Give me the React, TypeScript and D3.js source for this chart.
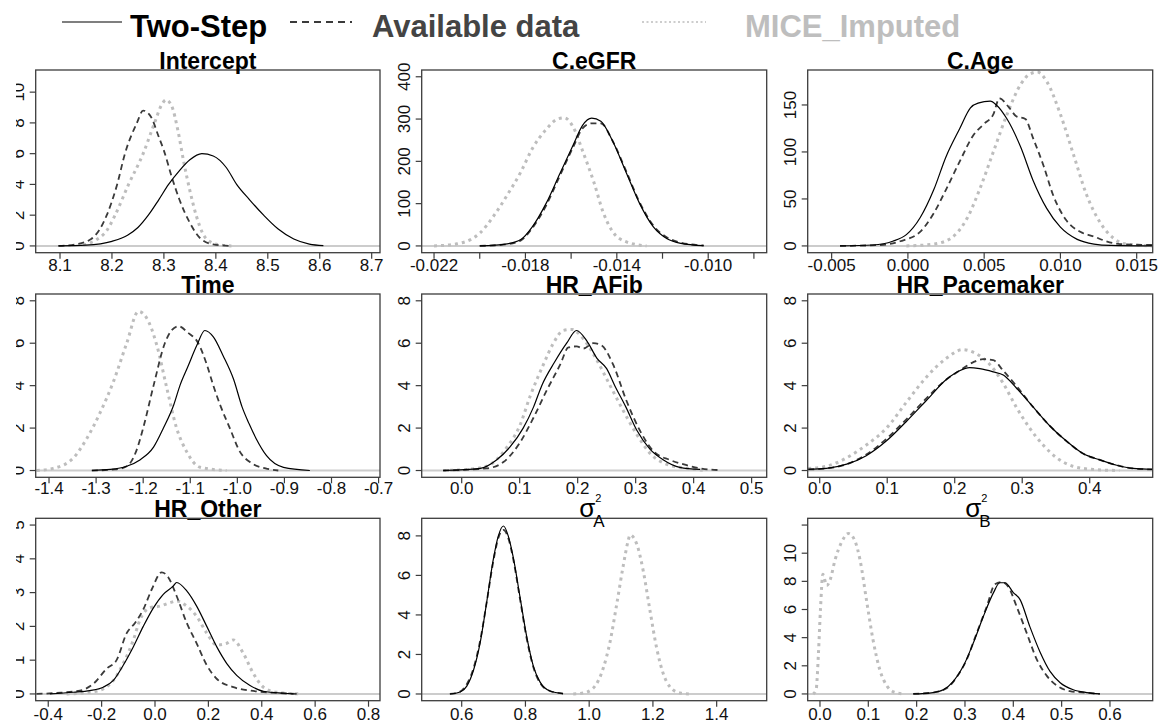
import React from "react";
import * as d3 from "d3";

type Pt = [number, number];

// ---------- Panel meta ----------
const panelTitles = ["Intercept", "C.eGFR", "C.Age", "Time", "HR_AFib", "HR_Pacemaker", "HR_Other", "σ", "σ"];
const panelSubscripts = ["", "", "", "", "", "", "", "A", "B"];
const xDomains: Pt[] = [
  [8.0532, 8.716], [-0.02254, -0.00744], [-0.00657, 0.01605],
  [-1.4283, -0.697], [-0.069, 0.526], [-0.0178, 0.4933],
  [-0.447, 0.843], [0.4745, 1.557], [-0.0254, 0.6884],
];
const yDomains: Pt[] = [
  [-0.44, 11.44], [-16, 416], [-7.2, 187.2],
  [-0.32, 8.32], [-0.32, 8.32], [-0.32, 8.32],
  [-0.2, 5.2], [-0.34, 8.89], [-0.48, 12.48],
];
const xTicks: number[][] = [
  [8.1, 8.2, 8.3, 8.4, 8.5, 8.6, 8.7],
  [-0.022, -0.02, -0.018, -0.016, -0.014, -0.012, -0.01, -0.008],
  [-0.005, 0, 0.005, 0.01, 0.015],
  [-1.4, -1.3, -1.2, -1.1, -1.0, -0.9, -0.8, -0.7],
  [0, 0.1, 0.2, 0.3, 0.4, 0.5],
  [0, 0.1, 0.2, 0.3, 0.4],
  [-0.4, -0.2, 0, 0.2, 0.4, 0.6, 0.8],
  [0.6, 0.8, 1.0, 1.2, 1.4],
  [0, 0.1, 0.2, 0.3, 0.4, 0.5, 0.6],
];
const xTickLabels: string[][] = [
  ["8.1", "8.2", "8.3", "8.4", "8.5", "8.6", "8.7"],
  ["-0.022", "", "-0.018", "", "-0.014", "", "-0.010", ""],
  ["-0.005", "0.000", "0.005", "0.010", "0.015"],
  ["-1.4", "-1.3", "-1.2", "-1.1", "-1.0", "-0.9", "-0.8", "-0.7"],
  ["0.0", "0.1", "0.2", "0.3", "0.4", "0.5"],
  ["0.0", "0.1", "0.2", "0.3", "0.4"],
  ["-0.4", "-0.2", "0.0", "0.2", "0.4", "0.6", "0.8"],
  ["0.6", "0.8", "1.0", "1.2", "1.4"],
  ["0.0", "0.1", "0.2", "0.3", "0.4", "0.5", "0.6"],
];
const yTicks: number[][] = [
  [0, 2, 4, 6, 8, 10],
  [0, 100, 200, 300, 400],
  [0, 50, 100, 150],
  [0, 2, 4, 6, 8],
  [0, 2, 4, 6, 8],
  [0, 2, 4, 6, 8],
  [0, 1, 2, 3, 4, 5],
  [0, 2, 4, 6, 8],
  [0, 2, 4, 6, 8, 10, 12],
];
const yTickLabels: string[][] = [
  ["0", "2", "4", "6", "8", "10"],
  ["0", "100", "200", "300", "400"],
  ["0", "50", "100", "150"],
  ["0", "2", "4", "6", "8"],
  ["0", "2", "4", "6", "8"],
  ["0", "2", "4", "6", "8"],
  ["0", "1", "2", "3", "4", "5"],
  ["0", "2", "4", "6", "8"],
  ["0", "2", "4", "6", "8", "10", ""],
];

// ---------- Series: Two-Step ----------
const twoStepIntercept: Pt[] = [[8.097,0],[8.15,0.05],[8.2,0.3],[8.23,0.7],[8.25,1.2],[8.27,2.0],[8.29,3.0],[8.309,4.0],[8.33,4.9],[8.35,5.6],[8.373,6.0],[8.395,5.85],[8.42,5.1],[8.44,4.0],[8.465,3.0],[8.492,2.0],[8.52,1.1],[8.55,0.45],[8.58,0.12],[8.607,0.02]];
const twoStepEGFR: Pt[] = [[-0.02,0],[-0.0188,5],[-0.0182,15],[-0.0177,45],[-0.0171,100],[-0.0165,170],[-0.0159,240],[-0.0155,285],[-0.0151,302],[-0.0147,295],[-0.0142,250],[-0.0136,175],[-0.013,100],[-0.0124,45],[-0.0118,17],[-0.0112,6],[-0.0102,0.5]];
const twoStepAge: Pt[] = [[-0.00445,0],[-0.0023,1],[-0.001,5],[-0.0001,12],[0.0008,30],[0.0017,60],[0.0025,95],[0.0034,125],[0.0041,147],[0.0046,152],[0.0054,154],[0.0058,150],[0.0065,135],[0.0074,105],[0.0082,70],[0.0091,40],[0.01,20],[0.0111,7],[0.0122,2],[0.0133,0.5],[0.016,0]];
const twoStepTime: Pt[] = [[-1.309,0],[-1.27,0.05],[-1.235,0.2],[-1.207,0.5],[-1.178,1.1],[-1.157,2.0],[-1.135,3.1],[-1.122,4.0],[-1.105,4.9],[-1.086,5.9],[-1.069,6.6],[-1.051,6.3],[-1.03,5.4],[-1.008,4.3],[-0.99,3.0],[-0.975,2.2],[-0.96,1.5],[-0.938,0.7],[-0.902,0.15],[-0.846,0]];
const twoStepAFib: Pt[] = [[-0.032,0],[0.032,0.1],[0.06,0.5],[0.083,1.1],[0.106,2.0],[0.124,3.0],[0.138,4.0],[0.16,5.1],[0.181,6.0],[0.198,6.6],[0.216,6.1],[0.233,5.3],[0.25,4.8],[0.264,4.0],[0.283,3.0],[0.302,1.9],[0.325,1.0],[0.348,0.5],[0.376,0.15],[0.411,0.05]];
const twoStepPace: Pt[] = [[-0.017,0.05],[0.01,0.1],[0.04,0.3],[0.069,0.7],[0.099,1.4],[0.128,2.3],[0.158,3.3],[0.188,4.3],[0.207,4.7],[0.222,4.85],[0.237,4.8],[0.257,4.65],[0.272,4.5],[0.291,3.9],[0.316,3.0],[0.341,2.1],[0.365,1.4],[0.39,0.8],[0.415,0.5],[0.44,0.25],[0.464,0.1],[0.493,0.05]];
const twoStepOther: Pt[] = [[-0.394,0],[-0.306,0.05],[-0.244,0.1],[-0.194,0.2],[-0.156,0.4],[-0.119,0.85],[-0.081,1.4],[-0.044,2.0],[-0.006,2.55],[0.031,2.95],[0.069,3.2],[0.081,3.3],[0.119,3.05],[0.156,2.6],[0.194,2.0],[0.231,1.4],[0.269,0.9],[0.306,0.55],[0.356,0.25],[0.406,0.08],[0.481,0.02],[0.519,0]];
const twoStepSigA: Pt[] = [[0.563,0],[0.595,0.1],[0.616,0.4],[0.637,1.2],[0.658,2.6],[0.678,4.6],[0.699,6.8],[0.715,8.0],[0.731,8.5],[0.746,8.0],[0.762,6.9],[0.783,4.9],[0.804,2.9],[0.825,1.4],[0.846,0.6],[0.877,0.15],[0.918,0.02]];
const twoStepSigB: Pt[] = [[0.193,0],[0.234,0.1],[0.255,0.3],[0.276,0.9],[0.297,2.0],[0.317,3.6],[0.338,5.5],[0.359,7.2],[0.372,7.9],[0.383,7.9],[0.4,7.2],[0.414,6.7],[0.434,4.8],[0.455,3.0],[0.476,1.6],[0.497,0.8],[0.524,0.3],[0.552,0.1],[0.579,0]];

// ---------- Series: Available data ----------
const availIntercept: Pt[] = [[8.097,0],[8.13,0.1],[8.16,0.45],[8.175,1.0],[8.19,2.0],[8.21,4.0],[8.225,6.0],[8.248,8.0],[8.26,8.8],[8.275,8.4],[8.29,7.1],[8.3,6.2],[8.315,4.5],[8.33,3.0],[8.35,1.5],[8.37,0.5],[8.395,0.1],[8.43,0]];
const availEGFR: Pt[] = [[-0.02,0],[-0.0188,4],[-0.0182,13],[-0.0177,42],[-0.0171,95],[-0.0165,165],[-0.0159,235],[-0.0155,278],[-0.0151,290],[-0.0147,290],[-0.0142,250],[-0.0136,178],[-0.013,103],[-0.0124,48],[-0.0118,20],[-0.0112,8],[-0.0102,1]];
const availAge: Pt[] = [[-0.00445,0],[-0.0018,1],[-0.0005,5],[0.0008,15],[0.0017,35],[0.0025,60],[0.0034,90],[0.0043,118],[0.005,130],[0.0056,140],[0.006,157],[0.0066,148],[0.0071,138],[0.0077,135],[0.0082,115],[0.0089,85],[0.0095,55],[0.0104,27],[0.0113,15],[0.0122,10],[0.013,5],[0.0139,2],[0.016,1]];
const availTime: Pt[] = [[-1.309,0],[-1.26,0.05],[-1.235,0.2],[-1.215,0.9],[-1.2,2.0],[-1.178,4.0],[-1.154,6.0],[-1.14,6.6],[-1.125,6.8],[-1.105,6.5],[-1.083,6.0],[-1.065,5.0],[-1.051,4.0],[-1.035,3.0],[-1.016,2.0],[-0.995,0.9],[-0.97,0.35],[-0.94,0.1],[-0.913,0]];
const availAFib: Pt[] = [[-0.032,0],[0.043,0.1],[0.072,0.4],[0.1,1.3],[0.124,2.5],[0.147,3.8],[0.17,5.0],[0.184,5.8],[0.198,5.85],[0.21,5.75],[0.227,6.0],[0.241,5.9],[0.261,5.0],[0.284,3.3],[0.307,1.9],[0.331,0.9],[0.359,0.5],[0.388,0.25],[0.411,0.1],[0.445,0.02]];
const availPace: Pt[] = [[-0.017,0.05],[0.01,0.1],[0.04,0.3],[0.069,0.75],[0.099,1.5],[0.128,2.4],[0.158,3.4],[0.188,4.3],[0.207,4.7],[0.227,5.1],[0.242,5.25],[0.257,5.2],[0.272,4.7],[0.291,4.0],[0.316,3.0],[0.341,2.1],[0.365,1.4],[0.39,0.8],[0.415,0.5],[0.44,0.25],[0.464,0.1],[0.493,0.05]];
const availOther: Pt[] = [[-0.444,0],[-0.369,0.03],[-0.281,0.1],[-0.231,0.3],[-0.181,0.75],[-0.144,1.0],[-0.106,1.8],[-0.075,2.1],[-0.044,2.5],[-0.012,3.1],[0.025,3.6],[0.05,3.45],[0.081,2.9],[0.119,2.1],[0.156,1.5],[0.194,0.85],[0.231,0.45],[0.294,0.2],[0.356,0.1],[0.419,0.05],[0.531,0]];
const availSigA: Pt[] = [[0.563,0],[0.595,0.12],[0.616,0.5],[0.637,1.3],[0.658,2.7],[0.678,4.6],[0.699,6.7],[0.715,7.9],[0.731,8.3],[0.746,7.9],[0.762,6.8],[0.783,4.8],[0.804,2.8],[0.825,1.35],[0.846,0.55],[0.877,0.15],[0.918,0.02]];
const availSigB: Pt[] = [[0.193,0],[0.234,0.1],[0.262,0.4],[0.283,1.2],[0.303,2.4],[0.324,4.3],[0.345,6.2],[0.362,7.8],[0.376,7.95],[0.39,7.6],[0.407,6.2],[0.428,4.3],[0.448,2.5],[0.469,1.3],[0.49,0.6],[0.517,0.2],[0.552,0.08],[0.579,0]];

// ---------- Series: MICE_Imputed ----------
const miceIntercept: Pt[] = [[8.145,0.05],[8.17,0.4],[8.19,1.0],[8.206,2.0],[8.232,4.0],[8.26,6.0],[8.282,8.0],[8.296,9.2],[8.304,9.5],[8.315,9.1],[8.327,7.5],[8.338,5.5],[8.35,3.6],[8.362,2.0],[8.375,0.8],[8.39,0.25],[8.41,0.05],[8.43,0]];
const miceEGFR: Pt[] = [[-0.022,0],[-0.021,5],[-0.0204,15],[-0.02,30],[-0.0194,70],[-0.0188,120],[-0.0182,175],[-0.0177,230],[-0.0171,275],[-0.0166,300],[-0.0163,303],[-0.0159,280],[-0.0155,225],[-0.015,150],[-0.0146,80],[-0.0142,35],[-0.0136,10],[-0.0127,0]];
const miceAge: Pt[] = [[-0.0001,0],[0.0017,2],[0.0028,8],[0.0039,30],[0.0047,60],[0.0056,100],[0.0065,140],[0.0074,172],[0.008,183],[0.0085,185],[0.0091,175],[0.01,140],[0.0109,95],[0.0117,55],[0.0126,25],[0.0135,8],[0.0143,2],[0.016,0]];
const miceTime: Pt[] = [[-1.426,0],[-1.391,0.1],[-1.348,0.6],[-1.32,1.5],[-1.292,2.7],[-1.263,4.2],[-1.235,6.0],[-1.21,7.5],[-1.193,7.2],[-1.171,5.9],[-1.15,3.9],[-1.129,2.0],[-1.108,0.9],[-1.079,0.15],[-1.023,0]];
const miceAFib: Pt[] = [[-0.032,0],[0.009,0.05],[0.043,0.2],[0.078,1.1],[0.1,2.1],[0.118,3.5],[0.141,5.0],[0.158,6.0],[0.175,6.6],[0.19,6.65],[0.21,6.2],[0.233,5.2],[0.256,4.0],[0.279,2.8],[0.302,1.7],[0.325,0.8],[0.353,0.3],[0.388,0.1],[0.422,0]];
const micePace: Pt[] = [[-0.017,0.1],[0.01,0.2],[0.04,0.6],[0.069,1.2],[0.099,2.0],[0.128,3.2],[0.158,4.4],[0.188,5.3],[0.212,5.7],[0.232,5.5],[0.252,5.0],[0.272,4.1],[0.291,3.0],[0.311,2.0],[0.331,1.2],[0.351,0.6],[0.375,0.2],[0.405,0.05],[0.444,0]];
const miceOther: Pt[] = [[-0.331,0],[-0.244,0.05],[-0.194,0.15],[-0.156,0.4],[-0.119,0.9],[-0.081,1.6],[-0.056,2.2],[-0.019,2.55],[0.019,2.6],[0.056,2.7],[0.081,2.75],[0.119,2.6],[0.156,2.3],[0.194,1.8],[0.231,1.45],[0.269,1.5],[0.294,1.6],[0.331,1.2],[0.369,0.6],[0.406,0.2],[0.456,0.05],[0.544,0]];
const miceSigA: Pt[] = [[0.95,0],[0.982,0.05],[1.013,0.3],[1.044,1.3],[1.065,2.6],[1.086,4.5],[1.107,6.5],[1.123,7.8],[1.128,8.05],[1.149,7.6],[1.17,6.2],[1.191,4.2],[1.212,2.3],[1.233,1.0],[1.254,0.35],[1.285,0.05],[1.317,0]];
const miceSigB: Pt[] = [[-0.014,0],[-0.008,0.3],[-0.003,3],[0.001,6],[0.006,8.5],[0.014,7.7],[0.021,8.1],[0.031,9.5],[0.045,10.8],[0.059,11.4],[0.072,10.9],[0.083,9.5],[0.097,6.5],[0.11,3.8],[0.124,1.7],[0.138,0.6],[0.152,0.15],[0.172,0]];

const twoStepSeries = [twoStepIntercept, twoStepEGFR, twoStepAge, twoStepTime, twoStepAFib, twoStepPace, twoStepOther, twoStepSigA, twoStepSigB];
const availSeries = [availIntercept, availEGFR, availAge, availTime, availAFib, availPace, availOther, availSigA, availSigB];
const miceSeries = [miceIntercept, miceEGFR, miceAge, miceTime, miceAFib, micePace, miceOther, miceSigA, miceSigB];

const legendLabels = ["Two-Step", "Available data", "MICE_Imputed"];

// ---------- Layout / styles ----------
const W = 1159;
const H = 725;
const colBox: Pt[] = [[35.7, 380], [421.7, 766.7], [807.7, 1152.7]];
const rowBox: Pt[] = [[70, 252.7], [294, 477.3], [518.3, 700.7]];
const rowLabelOffset = [18.5, 17, 19.5];
const FONT = "'Liberation Sans', Arial, Helvetica, sans-serif";

const styles = [
  { stroke: "#000000", width: 1.2, dash: "" },
  { stroke: "#3a3a3a", width: 1.8, dash: "6,4" },
  { stroke: "#bdbdbd", width: 3, dash: "3,4" },
];

function Panel({ i }: { i: number }) {
  const col = i % 3;
  const row = Math.floor(i / 3);
  const [x0, x1] = colBox[col];
  const [y0, y1] = rowBox[row];
  const x = d3.scaleLinear().domain(xDomains[i]).range([x0, x1]);
  const y = d3.scaleLinear().domain(yDomains[i]).range([y1, y0]);
  const line = d3
    .line<Pt>()
    .x((d) => x(d[0]))
    .y((d) => y(d[1]))
    .curve(d3.curveMonotoneX);
  const cx = (x0 + x1) / 2;
  const series = [twoStepSeries[i], availSeries[i], miceSeries[i]];
  const isSigma = panelSubscripts[i] !== "";
  return (
    <g>
      <defs>
        <clipPath id={`clip${i}`}>
          <rect x={x0} y={y0} width={x1 - x0} height={y1 - y0} />
        </clipPath>
      </defs>
      <line x1={x0} x2={x1} y1={y(0)} y2={y(0)} stroke="#cccccc" strokeWidth={2} />
      <g clipPath={`url(#clip${i})`}>
        {[2, 1, 0].map((s) => (
          <path
            key={s}
            d={line(series[s]) || ""}
            fill="none"
            stroke={styles[s].stroke}
            strokeWidth={styles[s].width}
            strokeDasharray={styles[s].dash || undefined}
          />
        ))}
      </g>
      <rect x={x0} y={y0} width={x1 - x0} height={y1 - y0} fill="none" stroke="#3c3c3c" strokeWidth={1.3} />
      {xTicks[i].map((t, k) => (
        <g key={`x${k}`}>
          <line x1={x(t)} x2={x(t)} y1={y1} y2={y1 + 6} stroke="#3c3c3c" strokeWidth={1.2} />
          <text x={x(t)} y={y1 + rowLabelOffset[row]} textAnchor="middle" fontFamily={FONT} fontSize={17} fill="#111">
            {xTickLabels[i][k]}
          </text>
        </g>
      ))}
      <g clipPath={col === 0 ? "url(#leftCrop)" : undefined}>
        {yTicks[i].map((t, k) => (
          <g key={`y${k}`}>
            <line x1={x0 - 6} x2={x0} y1={y(t)} y2={y(t)} stroke="#3c3c3c" strokeWidth={1.2} />
            <text
              transform={`translate(${x0 - 12},${y(t)}) rotate(-90)`}
              textAnchor="middle"
              fontFamily={FONT}
              fontSize={17}
              fill="#111"
            >
              {yTickLabels[i][k]}
            </text>
          </g>
        ))}
      </g>
      {isSigma ? (
        <g fontFamily={FONT} fill="#000">
          <text x={cx - 15} y={y0 - 1} fontSize={26}>{panelTitles[i]}</text>
          <text x={cx + 1} y={y0 - 16} fontSize={11}>2</text>
          <text x={cx - 1} y={y0 + 9} fontSize={17}>{panelSubscripts[i]}</text>
        </g>
      ) : (
        <text x={cx} y={y0 - 1} textAnchor="middle" fontFamily={FONT} fontWeight="bold" fontSize={23} fill="#000">
          {panelTitles[i]}
        </text>
      )}
    </g>
  );
}

function Legend() {
  const items = [
    { lx: [62, 122], tx: 130, color: "#000000" },
    { lx: [290, 352], tx: 372, color: "#444444" },
    { lx: [642, 706], tx: 745, color: "#bebebe" },
  ];
  return (
    <g>
      {items.map((it, k) => (
        <g key={k}>
          <line
            x1={it.lx[0]}
            x2={it.lx[1]}
            y1={22}
            y2={22}
            stroke={styles[k].stroke}
            strokeWidth={k === 2 ? 1.6 : styles[k].width}
            strokeDasharray={k === 1 ? "7,5" : k === 2 ? "2,2.5" : undefined}
          />
          <text x={it.tx} y={37} fontFamily={FONT} fontWeight="bold" fontSize={31} fill={it.color}>
            {legendLabels[k]}
          </text>
        </g>
      ))}
    </g>
  );
}

export default function App() {
  return (
    <svg
      width={W}
      height={H}
      viewBox={`0 0 ${W} ${H}`}
      style={{ position: "absolute", left: 0, top: 0, background: "#ffffff" }}
    >
      <defs>
        <clipPath id="leftCrop">
          <rect x={16} y={0} width={W} height={H} />
        </clipPath>
      </defs>
      <rect x={0} y={0} width={W} height={H} fill="#ffffff" />
      <Legend />
      {d3.range(9).map((i) => (
        <Panel key={i} i={i} />
      ))}
    </svg>
  );
}
